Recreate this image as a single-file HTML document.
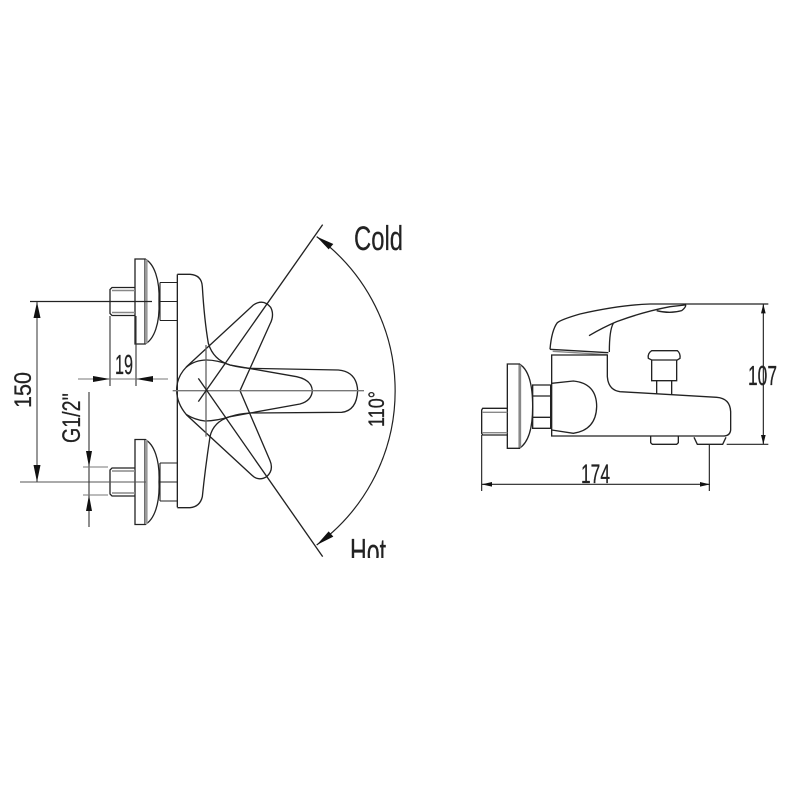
<!DOCTYPE html>
<html>
<head>
<meta charset="utf-8">
<style>
html,body{margin:0;padding:0;background:#fff}
svg{display:block;filter:blur(.35px)}
text{font-family:"Liberation Sans",sans-serif;fill:#222;stroke:#222;stroke-width:.25}
</style>
</head>
<body>
<svg width="800" height="800" viewBox="0 0 800 800" xmlns="http://www.w3.org/2000/svg">
<defs>
<g id="tap" fill="none" stroke="#222" stroke-width="1.3">
  <path d="M135,-42.5H145V42.5H135Z" fill="#fff"/>
  <path d="M145,-42.5C154,-38 160,-22 159,0C160,22 154,38 145,42.5"/>
  <rect x="145" y="-42" width="2.6" height="84" fill="#999" stroke="none"/>
  <path d="M135,-14H112L110,-12V12L112,14H135"/>
  <path d="M112,-11H135M112,11H135" stroke="#888" stroke-width="1.4"/>
  <path d="M160,-19H177M160,19H177M160,0H177M160,-19V19" stroke-width="1.1"/>
</g>
<clipPath id="hotclip"><rect x="340" y="530" width="60" height="28"/></clipPath>
</defs>

<!-- Left view: taps -->
<use href="#tap" y="301.5"/>
<use href="#tap" y="482"/>

<!-- Left view: body, handle -->
<g transform="translate(170,220) scale(.33333)" fill="none" stroke="#222" stroke-width="4">
  <path d="M22,163V862"/>
  <path d="M22,163H60Q95,165 97,200Q103,300 115,370Q130,420 180,435Q210,443 240,445L505,450Q560,455 563,512Q560,572 515,577L240,579Q205,581 180,590Q130,605 120,650Q105,750 97,830Q90,860 60,863H22"/>
  <path d="M50,440L250,255Q280,235 302,262Q314,285 300,312L210,512L300,722Q312,750 290,770Q265,785 245,765L50,585Q20,550 20,510Q20,470 50,440Z"/>
  <path d="M48,442Q75,420 110,420Q140,420 180,435L380,470Q425,480 427,512Q425,542 390,552L180,590Q140,603 105,603Q75,600 48,583"/>
  <path d="M108,375V650" stroke="#666"/>
  <path d="M8,512H582" stroke="#777"/>
  <path d="M85,545L458,14"/>
  <path d="M85,475L458,1010"/>
  <path d="M440,50A572,572 0 0 1 440,975" stroke-width="3.6"/>
  <path d="M440,50L490,72L476,88Z" fill="#111" stroke="none"/>
  <path d="M440,975L490,950L476,934Z" fill="#111" stroke="none"/>
</g>

<!-- Left view: dimensions -->
<g fill="none" stroke="#222" stroke-width="1.1">
  <path d="M30,301.5H152" stroke-width="1.3"/>
  <path d="M20,482H146" stroke="#555"/>
  <path d="M37,302V482" stroke="#444"/>
  <path d="M110,316V386M136,316V386" stroke="#333"/>
  <path d="M78,379H168" stroke="#777"/>
  <path d="M89,392V527" stroke="#333"/>
  <path d="M83,467H108M83,495H108" stroke="#777"/>
</g>
<g fill="#111">
  <path d="M37,302L33.5,318H40.5Z"/>
  <path d="M37,482L33.5,465H40.5Z"/>
  <path d="M110,379L93,376V382Z"/>
  <path d="M136,379L153,376V382Z"/>
  <path d="M89,467L86,451H92Z"/>
  <path d="M89,495L86,511H92Z"/>
</g>
<text x="115" y="374" font-size="28" textLength="18" lengthAdjust="spacingAndGlyphs">19</text>
<text transform="translate(31,408) rotate(-90)" font-size="24" textLength="36" lengthAdjust="spacingAndGlyphs">150</text>
<text transform="translate(80,443) rotate(-90)" font-size="25" textLength="50" lengthAdjust="spacingAndGlyphs">G1/2''</text>
<text x="354" y="250" font-size="34" textLength="49" lengthAdjust="spacingAndGlyphs">Cold</text>
<text x="350" y="564" font-size="36" textLength="36" lengthAdjust="spacingAndGlyphs" clip-path="url(#hotclip)">Hot</text>
<text transform="translate(384,427) rotate(-90)" font-size="22" textLength="36" lengthAdjust="spacingAndGlyphs">110°</text>

<!-- Right view -->
<g transform="translate(470,290) scale(.33333)" fill="none" stroke="#222" stroke-width="4">
  <path d="M240,178Q245,120 262,98Q275,88 330,72Q450,45 540,42H645Q652,48 635,62Q600,72 560,62"/>
  <path d="M240,178L415,188"/>
  <path d="M248,184L412,194" stroke="#888"/>
  <path d="M357,137Q400,112 440,95Q520,65 600,50L645,45"/>
  <path d="M430,100Q418,120 418,186"/>
  <path d="M245,195H412V260Q415,300 450,305L740,322Q780,325 782,365V420Q780,438 760,438H245Z"/>
  <path d="M245,280L310,273Q380,280 380,350Q378,420 310,430L245,420"/>
  <path d="M188,285H242V415H188ZM188,318H242M188,382H242"/>
  <path d="M112,222H148V475H112Z" fill="#fff"/>
  <path d="M148,222Q188,245 188,350Q188,450 148,475"/>
  <path d="M150,224V473" stroke="#888" stroke-width="7"/>
  <path d="M112,355H38L35,360V430L38,435H112"/>
  <path d="M38,367H112M38,428H112" stroke="#888"/>
  <path d="M545,182H622Q632,190 630,205L622,210H545L535,205Q532,190 545,182Z"/>
  <path d="M545,210V272H620V210M560,272V312M605,272V314"/>
  <path d="M542,438V458L547,463H620L625,458V438"/>
  <path d="M672,442L682,463H758L768,442"/>
  <path d="M645,42H895M770,463H895" stroke-width="3.4"/>
  <path d="M880,42V463" stroke-width="3.4"/>
  <path d="M35,435V603M718,463V603" stroke-width="3.4"/>
  <path d="M35,583H720" stroke-width="3.4"/>
  <path d="M880,42L873,70H887Z" fill="#111" stroke="none"/>
  <path d="M880,463L873,435H887Z" fill="#111" stroke="none"/>
  <path d="M35,583L66,576V590Z" fill="#111" stroke="none"/>
  <path d="M720,583L690,576V590Z" fill="#111" stroke="none"/>
</g>
<text x="748" y="385" font-size="28" textLength="29" lengthAdjust="spacingAndGlyphs">107</text>
<text x="581" y="483" font-size="27" textLength="29" lengthAdjust="spacingAndGlyphs">174</text>
</svg>
</body>
</html>
